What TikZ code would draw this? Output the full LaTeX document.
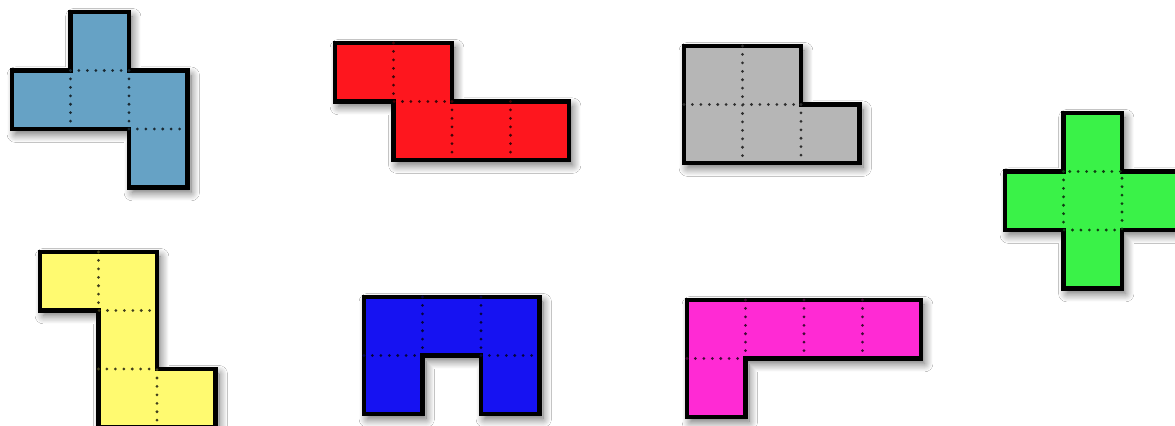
\documentclass[tikz,border=0pt]{standalone}
\usepackage{xcolor}
\usepackage{tikz}
\usetikzlibrary{shadows.blur}
\definecolor{azulacero}{RGB}{102,162,197}
\definecolor{rojo}{RGB}{254,22,30}
\definecolor{gris}{RGB}{182,182,182}
\definecolor{verde}{RGB}{58,242,72}
\definecolor{amarillo}{RGB}{255,250,112}
\definecolor{azul}{RGB}{22,18,242}
\definecolor{rosa}{RGB}{255,42,212}

\begin{document}
\begin{tikzpicture}[x=0.025cm,y=-0.025cm,
  pieza/.style={draw=black,line width=3pt,line join=miter,fill=#1,
    blur shadow={shadow xshift=2.5pt,shadow yshift=-3.5pt,shadow blur steps=12,shadow blur radius=6pt,shadow opacity=60}},
  rejilla/.style={draw=#1!25!black,line width=2.2pt,line cap=round,dash pattern=on 0pt off 6pt}]
\useasboundingbox[fill=white] (0,0) rectangle (1175,426);
% fila superior
\begin{scope}[shift={(12,12)},scale=58.5]
\path[pieza=azulacero] (1,0) -- (2,0) -- (2,1) -- (3,1) -- (3,3) -- (2,3) -- (2,2) -- (0,2) -- (0,1) -- (1,1) -- cycle;
\draw[rejilla=azulacero] (1,1) -- (2,1) (1,1) -- (1,2) (2,1) -- (2,2) (2,2) -- (3,2);
\end{scope}
\begin{scope}[shift={(335,43)},scale=58.5]
\path[pieza=rojo] (0,0) -- (2,0) -- (2,1) -- (4,1) -- (4,2) -- (1,2) -- (1,1) -- (0,1) -- cycle;
\draw[rejilla=rojo] (1,0) -- (1,1) -- (2,1) (2,1) -- (2,2) (3,1) -- (3,2);
\end{scope}
\begin{scope}[shift={(684,46)},scale=58.5]
\path[pieza=gris] (0,0) -- (2,0) -- (2,1) -- (3,1) -- (3,2) -- (0,2) -- cycle;
\draw[rejilla=gris] (1,0) -- (1,2) (0,1) -- (2,1) (2,1) -- (2,2);
\end{scope}
\begin{scope}[shift={(1005,113)},scale=58.5]
\path[pieza=verde] (1,0) -- (2,0) -- (2,1) -- (3,1) -- (3,2) -- (2,2) -- (2,3) -- (1,3) -- (1,2) -- (0,2) -- (0,1) -- (1,1) -- cycle;
\draw[rejilla=verde] (1,1) rectangle (2,2);
\end{scope}
% fila inferior
\begin{scope}[shift={(40,252)},scale=58.5]
\path[pieza=amarillo] (0,0) -- (2,0) -- (2,2) -- (3,2) -- (3,3) -- (1,3) -- (1,1) -- (0,1) -- cycle;
\draw[rejilla=amarillo] (1,0) -- (1,1) -- (2,1) (1,2) -- (2,2) -- (2,3);
\end{scope}
\begin{scope}[shift={(364,297)},scale=58.5]
\path[pieza=azul] (0,0) -- (3,0) -- (3,2) -- (2,2) -- (2,1) -- (1,1) -- (1,2) -- (0,2) -- cycle;
\draw[rejilla=azul] (1,0) -- (1,1) (2,0) -- (2,1) (0,1) -- (1,1) (2,1) -- (3,1);
\end{scope}
\begin{scope}[shift={(687,300)},scale=58.5]
\path[pieza=rosa] (0,0) -- (4,0) -- (4,1) -- (1,1) -- (1,2) -- (0,2) -- cycle;
\draw[rejilla=rosa] (1,0) -- (1,1) (2,0) -- (2,1) (3,0) -- (3,1) (0,1) -- (1,1);
\end{scope}
\end{tikzpicture}
\end{document}
